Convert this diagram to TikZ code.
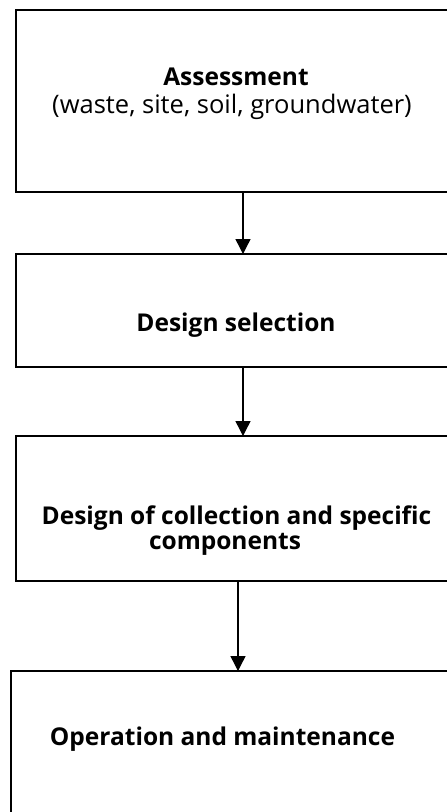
\documentclass[tikz,border=0pt]{standalone}
\usepackage{fontspec}
\setmainfont{Open Sans}
\usetikzlibrary{arrows.meta}
\begin{document}
\begin{tikzpicture}[x=1pt,y=-1pt,
  stage/.style={draw=black,line width=1.5pt,minimum width=441pt,inner sep=0pt,outer sep=0pt,anchor=north west},
  flow/.style={line width=1.4pt,-{Triangle[width=15pt,length=15pt]}},
  lbl/.style={anchor=base,inner sep=0pt,font=\fontsize{25.5}{30}\selectfont},
  lblb/.style={lbl,font=\fontsize{24.5}{29}\selectfont\bfseries}]
\useasboundingbox (0,0) rectangle (447,812);
\fill[white] (0,0) rectangle (447,812);
\clip (0,0) rectangle (447,812);

% stage boxes (they run on past the right and lower edges)
\node[stage,minimum height=182pt] (assess) at (16,10) {};
\node[stage,minimum height=113pt] (select) at (16,254) {};
\node[stage,minimum height=145pt] (design) at (16,436) {};
\node[stage,minimum width=451pt,minimum height=160pt] (operate) at (11,671) {};

% labels
\node[lblb] (t1) at (236,85) {Assessment};
\node[lbl]  (t2) at (232,113) {(waste, site, soil, groundwater)};
\node[lblb] (t3) at (236,331) {Design selection};
\node[lblb] (t4) at (236.5,524) {Design of collection and specific};
\node[lblb] (t5) at (225,549) {components};
\node[lblb] (t6) at (222.5,745) {Operation and maintenance};

% connectors
\coordinate (c1) at (243,0);
\coordinate (c3) at (238,0);
\draw[flow] (assess.south -| c1) -- (select.north -| c1);
\draw[flow] (select.south -| c1) -- (design.north -| c1);
\draw[flow] (design.south -| c3) -- (operate.north -| c3);
\end{tikzpicture}
\end{document}
